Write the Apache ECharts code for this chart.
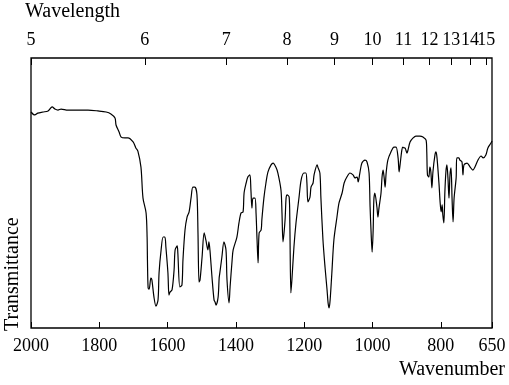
<!DOCTYPE html>
<html>
<head>
<meta charset="utf-8">
<script src="https://cdn.jsdelivr.net/npm/echarts@6/dist/echarts.min.js"></script>
<style>
html,body{margin:0;padding:0;background:#fff;}
#chart{width:509px;height:385px;}
</style>
</head>
<body>
<div id="chart"></div>
<script>
// Wavenumber (cm^-1) of each traced point
const wavenumbers = [
2000,1989,1980,1965,1950,1938,1930,1921,1912,1892,1862,1833,1804,1780,1766,1754,1751,1742,1736,1725,
1716,1701,1693,1687,1678,1672,1663,1660,1659,1657,1654,1649,1646,1640,1634,1628,1625,1619,1613,1608,
1605,1599,1596,1593,1587,1581,1578,1572,1570,1564,1558,1555,1549,1543,1537,1531,1526,1520,1514,1511,
1508,1505,1499,1493,1488,1482,1479,1476,1470,1464,1461,1458,1452,1449,1447,1441,1435,1429,1426,1420,
1417,1411,1408,1397,1391,1385,1379,1376,1370,1365,1359,1356,1353,1350,1344,1341,1338,1335,1332,1326,
1324,1318,1312,1306,1297,1291,1283,1277,1268,1265,1262,1256,1253,1250,1244,1242,1239,1236,1230,1224,
1215,1209,1201,1195,1192,1189,1183,1180,1174,1171,1162,1160,1154,1151,1145,1139,1133,1130,1127,1124,
1119,1113,1104,1098,1089,1083,1075,1066,1057,1051,1045,1042,1037,1031,1022,1016,1010,1007,1004,1001,
998,996,993,987,984,981,975,972,969,966,963,960,955,946,937,931,925,922,919,914,
911,908,905,899,896,890,881,873,861,852,843,841,839,835,832,829,826,823,817,814,
811,805,802,799,796,794,791,788,785,782,779,776,773,770,767,764,761,755,753,747,
744,738,735,732,723,714,706,700,691,682,676,668,662,653,650
];
// Transmittance (arbitrary %, 0 = bottom of frame, 100 = top)
const transmittance = [
80.0,78.9,79.6,80.0,80.4,81.9,81.1,80.7,81.1,80.7,80.7,80.7,80.4,80.0,79.3,77.8,75.2,72.6,70.7,70.4,
70.4,68.9,66.7,65.5,59.6,48.1,42.6,33.7,25.2,14.8,14.4,18.5,17.8,11.5,8.1,10.4,20.4,28.9,33.7,33.7,
30.0,20.4,12.2,13.3,14.1,21.5,28.9,30.4,27.8,15.2,15.9,25.2,36.3,41.1,43.0,48.5,52.2,52.2,49.3,35.2,
17.0,17.8,26.3,35.2,32.6,28.9,31.9,28.9,18.9,10.4,9.6,8.5,11.5,18.5,20.4,26.3,31.9,28.9,17.8,9.3,
15.2,25.2,28.9,33.7,38.9,42.6,43.0,50.0,53.7,55.9,56.7,51.1,44.4,48.1,48.1,42.6,32.6,24.1,35.2,36.3,
40.0,48.1,53.7,57.8,60.4,61.1,59.6,57.4,51.1,42.6,31.9,40.0,48.1,49.3,48.5,38.9,13.0,17.8,30.0,38.9,
48.5,54.8,57.4,57.4,53.7,46.7,48.5,52.2,53.7,56.7,60.4,59.6,57.4,48.1,32.6,22.6,14.1,9.3,7.4,10.4,
20.4,32.6,41.1,46.3,50.0,53.7,55.9,57.4,56.7,55.6,55.9,54.1,57.4,61.1,62.2,61.5,57.4,44.8,35.2,28.1,
36.3,47.4,50.0,44.8,41.1,44.4,50.0,55.9,58.5,55.9,52.2,57.4,62.2,65.2,67.0,67.0,63.0,57.8,60.7,65.9,
67.0,66.7,66.7,64.8,65.9,68.9,70.4,71.1,71.1,70.7,69.6,65.2,56.7,55.9,59.6,57.8,51.9,57.8,64.1,65.2,
63.0,53.0,46.7,43.0,45.6,41.9,38.9,50.4,57.8,60.4,55.6,48.1,56.7,59.3,48.1,39.3,48.1,55.6,63.0,63.0,
62.2,61.5,56.7,60.4,61.1,59.6,58.5,59.6,62.2,63.7,63.0,64.1,66.7,68.5,69.3
];
// Bottom axis tick labels (wavenumber, cm^-1)
const wavenumberTicks = [2000, 1800, 1600, 1400, 1200, 1000, 800, 650];
// Top axis tick labels (wavelength, micrometres)
const wavelengthTicks = [5, 6, 7, 8, 9, 10, 11, 12, 13, 14, 15];

const seriesData = wavenumbers.map((w, i) => [w, transmittance[i]]);
const wavelengthPositions = wavelengthTicks.map(l => 10000 / l);
// labels split over two overlaid axes so the tightly packed last labels are not dropped
const topLabelsA = wavelengthPositions.filter((_, i) => i % 2 === 0);
const topLabelsB = wavelengthPositions.filter((_, i) => i % 2 === 1);

const FONT = '"Liberation Serif", "Times New Roman", serif';
const labelBase = {show: true, margin: 9, color: '#000', fontFamily: FONT, fontSize: 18,
  hideOverlap: false, showMinLabel: true, showMaxLabel: true};
const topAxis = (labels, ticks) => ({
  type: 'value', min: 650, max: 2000, inverse: true, position: 'top',
  axisLine: {show: false}, splitLine: {show: false},
  axisTick: ticks ? {show: true, inside: true, length: 7, customValues: wavelengthPositions, lineStyle: {color: '#000', width: 1}} : {show: false},
  axisLabel: Object.assign({}, labelBase, {customValues: labels, formatter: v => String(Math.round(10000 / v))})
});

const chart = echarts.init(document.getElementById('chart'), null, {renderer: 'canvas'});
chart.setOption({
  animation: false,
  backgroundColor: '#fff',
  grid: {left: 31, right: 17, top: 58, bottom: 57, show: true, borderColor: '#000', borderWidth: 1.3, backgroundColor: 'transparent'},
  xAxis: [
    {
      type: 'value', min: 650, max: 2000, inverse: true, position: 'bottom',
      axisLine: {show: false},
      splitLine: {show: false},
      axisTick: {show: true, inside: true, length: 6, customValues: wavenumberTicks, lineStyle: {color: '#000', width: 1}},
      axisLabel: Object.assign({}, labelBase, {customValues: wavenumberTicks, formatter: v => String(Math.round(v))})
    },
    topAxis(topLabelsA, true),
    topAxis(topLabelsB, false)
  ],
  yAxis: {
    type: 'value', min: 0, max: 100,
    axisLine: {show: false}, axisTick: {show: false}, axisLabel: {show: false}, splitLine: {show: false}
  },
  graphic: [
    {type: 'text', left: 25, top: 2, style: {text: 'Wavelength', font: '20px ' + FONT, fill: '#000'}},
    {type: 'text', right: 4, top: 360, style: {text: 'Wavenumber', font: '20px ' + FONT, fill: '#000'}},
    {type: 'text', x: 3, y: 331, rotation: Math.PI / 2, style: {text: 'Transmittance', font: '20px ' + FONT, fill: '#000', align: 'left', verticalAlign: 'top'}}
  ],
  series: [{
    type: 'line', xAxisIndex: 0, data: seriesData, showSymbol: false, smooth: 0.3,
    lineStyle: {color: '#000', width: 1.2}
  }]
});
</script>
</body>
</html>
